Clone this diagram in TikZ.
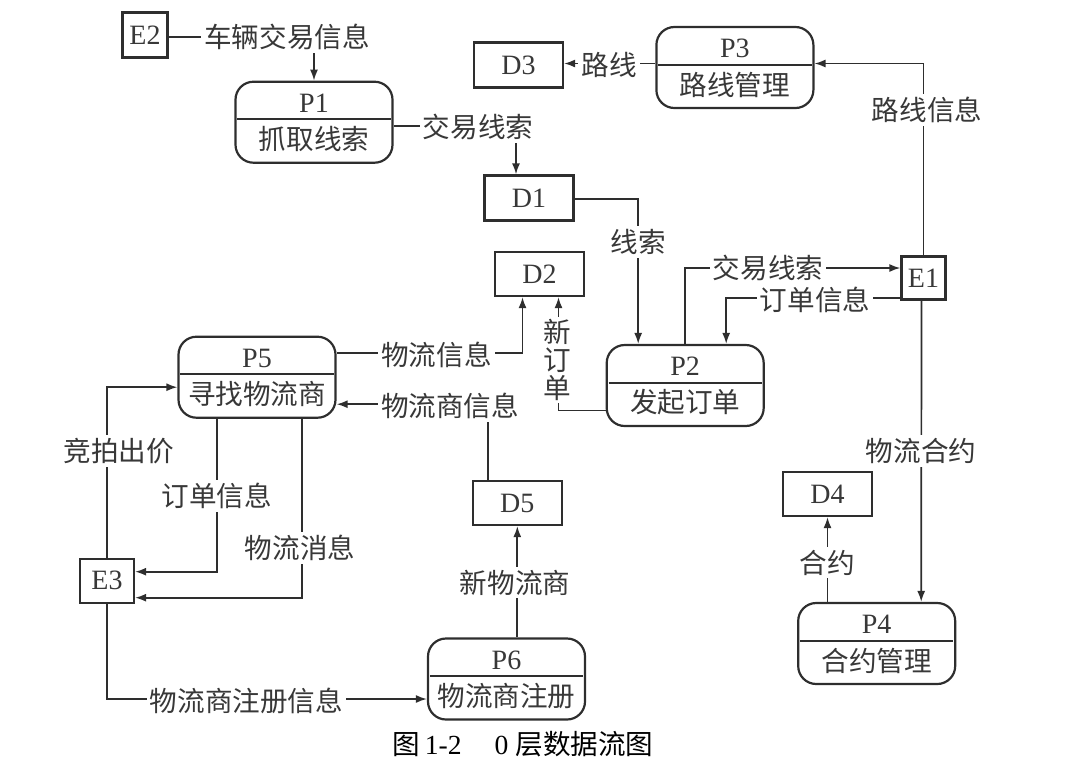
\documentclass[tikz,border=0pt]{standalone}
\usepackage{fontspec}
\setmainfont{Liberation Serif}
\newfontfamily\cjk{Noto Sans CJK SC}
\usetikzlibrary{arrows.meta,calc}
\definecolor{ln}{HTML}{2E2E2E}
\definecolor{tx}{HTML}{383838}
\tikzset{
  box/.style={draw=ln, line width=1.1pt, inner sep=0pt, minimum width=44.5pt, minimum height=22pt, text=tx, font=\fontsize{14}{16}\selectfont},
  ebox/.style={box, minimum width=22pt, minimum height=22pt},
  proc/.style={draw=ln, line width=1.1pt, rounded corners=9pt, minimum width=78.5pt, minimum height=40.5pt, inner sep=0pt},
  ptop/.style={text=tx, font=\fontsize{14}{16}\selectfont, inner sep=0pt},
  pbot/.style={text=tx, font=\cjk\fontsize{13.8}{16}\selectfont, inner sep=0pt},
  lab/.style={fill=white, text=tx, font=\cjk\fontsize{13.8}{16}\selectfont, inner sep=1.5pt},
  flow/.style={draw=ln, line width=0.85pt, -{Latex[length=5.5pt,width=4pt]}},
}
\newcommand\procnode[5]{%
  \node[proc] (#1) at (#2,#3) {};
  \draw[ln, line width=1pt] ($(#1.west)+(3,-3)$) -- ($(#1.east)+(-3,-3)$);
  \node[ptop] (#1t) at ($(#1.center)+(0,-19)$) {#4};
  \node[pbot] (#1b) at ($(#1.center)+(0,17)$) {#5};
}
\begin{document}
\begin{tikzpicture}[x=0.5pt,y=-0.5pt]
\useasboundingbox (0,0) rectangle (1077,762);
% process nodes
\procnode{P1}{314}{122.2}{P1}{抓取线索}
\procnode{P2}{685.2}{385.5}{P2}{发起订单}
\procnode{P3}{734.9}{67.5}{P3}{路线管理}
\procnode{P4}{876.7}{643.5}{P4}{合约管理}
\procnode{P5}{257}{377.2}{P5}{寻找物流商}
\procnode{P6}{506.5}{679}{P6}{物流商注册}
% data stores
\node[box, minimum height=22.5pt] (D1) at (529,198) {D1};
\node[box] (D2) at (539.5,274) {D2};
\node[box, minimum height=22.5pt] (D3) at (518.5,65) {D3};
\node[box] (D4) at (827.5,494) {D4};
\node[box] (D5) at (517.3,503) {D5};
% entities
\node[ebox, minimum height=21.5pt] (E1) at (923.5,278) {E1};
\node[ebox, minimum width=22.5pt, minimum height=22.5pt] (E2) at (145,35) {E2};
\node[ebox, minimum width=27pt] (E3) at (107,580.7) {E3};

% connectors
\draw[flow] ($(E2.east)+(0,2)$) -| (P1.north);
\draw[flow] ($(P1.east)+(0,4)$) -| ($(D1.north)+(-13,0)$);
\draw[flow] ($(D1.east)+(0,1)$) -| ($(P2.north)+(-47,0)$);
\draw[flow] (P2.north) |- ($(E1.west)+(0,-10)$);
\draw[flow] ($(E1.west)+(0,20)$) -| ($(P2.north)+(41,0)$);
\draw[flow] (E1.north) |- ($(P3.east)+(0,-4)$);
\coordinate (p3w) at ($(P3.west)+(0,-4)$);
\draw[flow] (p3w) -- (D3.east |- p3w);
\draw[flow] ($(E1.south)+(-2,0)$) -- ($(P4.north)+(44.5,0)$);
\draw[flow] (D4.south |- P4.north) -- (D4.south);
\draw[flow] ($(P2.west)+(0,25)$) -| ($(D2.south)+(19,0)$);
\draw[flow] ($(P5.east)+(0,-24)$) -| ($(D2.south)+(-17,0)$);
\draw[flow] ($(D5.north)+(-29,0)$) |- ($(P5.east)+(0,27)$);
\draw[flow] (D5.south |- P6.north) -- (D5.south);
\draw[flow] (E3.south) |- ($(P6.west)+(0,20)$);
\draw[flow] (E3.north) |- ($(P5.west)+(0,10)$);
\draw[flow] ($(P5.south)+(-40,0)$) |- ($(E3.east)+(0,-9)$);
\draw[flow] ($(P5.south)+(45,0)$) |- ($(E3.east)+(0,17)$);

% labels
\node[lab] (l1) at (287,37) {车辆交易信息};
\node[lab] (l2) at (478,127) {交易线索};
\node[lab] (l3) at (638,242) {线索};
\node[lab] (l4) at (768,268) {交易线索};
\node[lab] (l5) at (815,300) {订单信息};
\node[lab] (l6) at (927,110) {路线信息};
\node[lab] (l7) at (609,65) {路线};
\node[lab] (l8) at (921,451) {物流合约};
\node[lab] (l9) at (827,562.7) {合约};
\node[lab, align=center, font=\cjk\fontsize{13.8}{14.2}\selectfont, inner sep=1pt] (l10) at (557.5,360) {新\\订\\单};
\node[lab] (l11) at (436.5,355) {物流信息};
\node[lab] (l12) at (450,406) {物流商信息};
\node[lab] (l13) at (515,582.7) {新物流商};
\node[lab] (l14) at (246.5,701) {物流商注册信息};
\node[lab] (l15) at (119,451) {竞拍出价};
\node[lab] (l16) at (216.7,496) {订单信息};
\node[lab] (l17) at (300,547.7) {物流消息};

% caption
\node[text=black, font=\fontsize{13.8}{16}\selectfont, inner sep=0pt] (cap) at (523,744) {{\cjk 图}\,1-2\hspace{1.2em}0 {\cjk 层数据流图}};
\end{tikzpicture}
\end{document}
